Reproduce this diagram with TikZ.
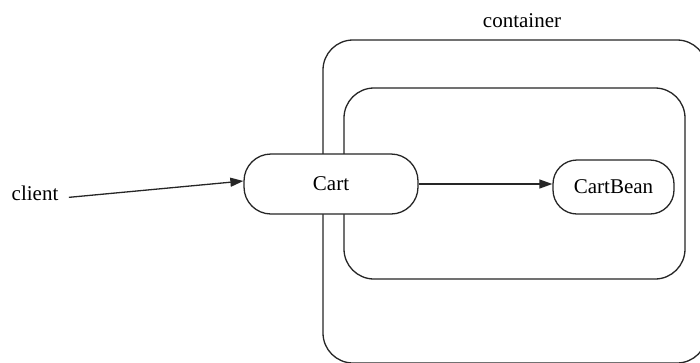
\documentclass[tikz,border=0pt]{standalone}
\usepackage{fontspec}
\setmainfont{Liberation Serif}
\usetikzlibrary{arrows.meta}
\begin{document}
\begin{tikzpicture}[x=1pt,y=-1pt,
  box/.style={draw=black!85,line width=1.3pt,rectangle,inner sep=0pt,fill=white},
  lbl/.style={font=\fontsize{21}{25}\selectfont},
  conn/.style={draw=black!85,line width=1.3pt,-{Triangle[length=13pt,width=9pt]}}]
\useasboundingbox (0,0) rectangle (700,362);
\clip (0,0) rectangle (700,362);
\node[box,rounded corners=30pt,minimum width=384pt,minimum height=323pt] (outer) at (515,201.5) {};
\node[box,rounded corners=30pt,minimum width=341pt,minimum height=191pt] (inner) at (514.5,183.5) {};
\node[box,lbl,rounded corners=27pt,minimum width=174pt,minimum height=60pt] (cart) at (331,184) {Cart};
\node[box,lbl,rounded corners=24pt,minimum width=121pt,minimum height=54pt] (bean) at (613.5,187) {CartBean};
\node[lbl] (client) at (35,193) {client};
\node[lbl] (container) at (522,21) {container};
\draw[conn,shorten <=7pt] ([yshift=-5pt]client.east) -- ([yshift=3pt]cart.west);
\draw[conn] (cart.east) -- ([yshift=3pt]bean.west);
\end{tikzpicture}
\end{document}
